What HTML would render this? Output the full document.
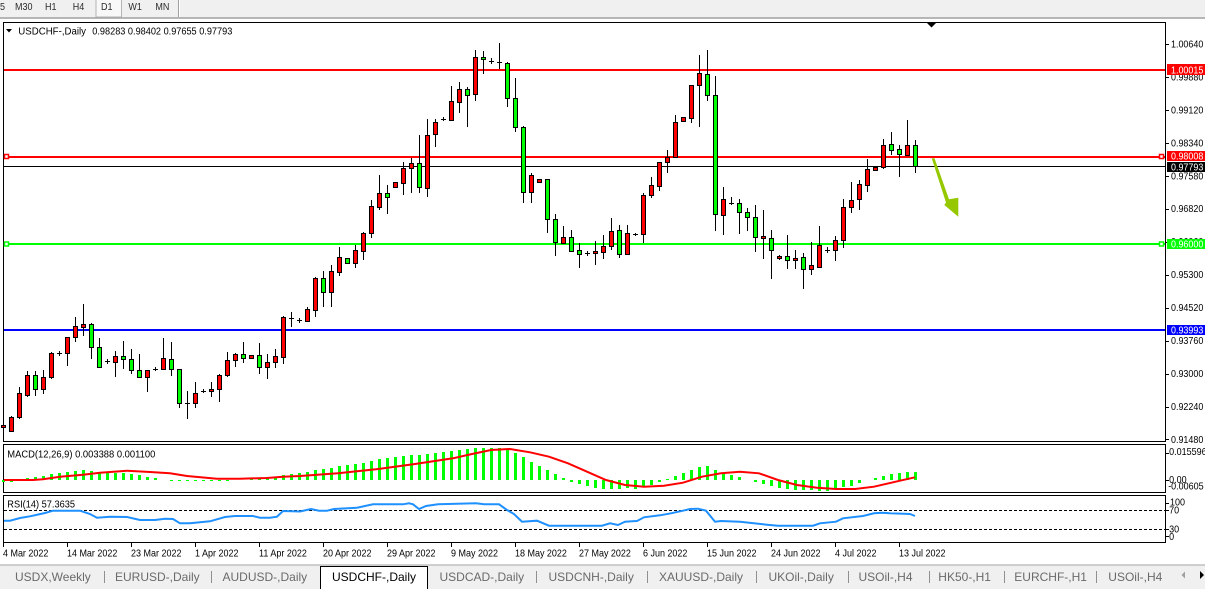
<!DOCTYPE html>
<html><head><meta charset="utf-8"><style>
html,body{margin:0;padding:0;background:#fff;}
svg{display:block;font-family:"Liberation Sans",sans-serif;}
</style></head><body>
<svg width="1205" height="589" viewBox="0 0 1205 589" xmlns="http://www.w3.org/2000/svg">
<rect x="0" y="0" width="1205" height="589" fill="#fff"/>
<!-- toolbar -->
<rect x="0" y="0" width="1205" height="18" fill="#f0f0f0"/>
<line x1="0" y1="18" x2="1205" y2="18" stroke="#a0a0a0" stroke-width="1.5"/>
<rect x="96" y="-1" width="25.5" height="18" fill="#f8f8f8" stroke="#b4b4b4" stroke-width="1"/>
<line x1="178.5" y1="0" x2="178.5" y2="17" stroke="#a0a0a0"/>
<line x1="179.5" y1="0" x2="179.5" y2="17" stroke="#fff"/>
<g transform="scale(0.9,1)" font-size="10" fill="#2a2a2a">
<text x="0" y="10">5</text><text x="16.7" y="10">M30</text><text x="50" y="10">H1</text><text x="80.8" y="10">H4</text><text x="112.2" y="10">D1</text><text x="142.6" y="10">W1</text><text x="172.6" y="10">MN</text>
</g>
<!-- panels -->
<g fill="none" stroke="#000" stroke-width="1" shape-rendering="crispEdges">
<rect x="3.5" y="22.5" width="1162" height="419"/>
<rect x="3.5" y="444.5" width="1162" height="48"/>
<rect x="3.5" y="495.5" width="1162" height="47"/>
</g>
<!-- header -->
<polygon points="6,29 12,29 9,32.5" fill="#000"/>
<text x="18.3" y="34.3" font-size="10" textLength="67.7" lengthAdjust="spacingAndGlyphs">USDCHF-,Daily</text>
<text x="92.3" y="34.3" font-size="10" textLength="140" lengthAdjust="spacingAndGlyphs">0.98283 0.98402 0.97655 0.97793</text>
<polygon points="927,23 936,23 931.5,27.5" fill="#000"/>
<!-- horizontal levels -->
<g shape-rendering="crispEdges">
<rect x="4" y="69" width="1161" height="2" fill="#ff0000"/>
<rect x="4" y="156" width="1161" height="2" fill="#ff0000"/>
<rect x="4" y="166" width="1161" height="1" fill="#000"/>
<rect x="4" y="243" width="1161" height="2" fill="#00ff00"/>
<rect x="4" y="329" width="1161" height="2" fill="#0000ff"/>
</g>
<rect x="4.5" y="154.5" width="4" height="4" fill="#fff" stroke="#ff0000" stroke-width="1.5"/>
<rect x="1159.5" y="154.5" width="4" height="4" fill="#fff" stroke="#ff0000" stroke-width="1.5"/>
<rect x="4.5" y="242" width="4" height="4" fill="#fff" stroke="#00ff00" stroke-width="1.5"/>
<rect x="1159.5" y="242" width="4" height="4" fill="#fff" stroke="#00ff00" stroke-width="1.5"/>
<!-- wicks -->
<path stroke="#000" stroke-width="1" fill="none" shape-rendering="crispEdges" d="M3.5 413V430M11.5 416V431M19.5 387V419M27.5 371V397M35.5 371V396M43.5 370V394M51.5 352V379M59.5 351V356M67.5 337V366M75.5 317V342M83.5 304V336M91.5 323V359M99.5 338V368M107.5 359V364M115.5 351V377M123.5 341V369M131.5 349V374M139.5 354V378M147.5 370V392M155.5 367V371M163.5 338V370M171.5 342V376M179.5 369V408M187.5 391V419M195.5 382V408M203.5 389V393M211.5 382V397M219.5 374V402M227.5 352V377M235.5 353V367M243.5 342V363M251.5 355V358M259.5 343V374M267.5 354V379M275.5 349V368M283.5 316V364M291.5 312V327M299.5 318V323M307.5 307V322M315.5 277V317M323.5 271V307M331.5 265V307M339.5 247V276M347.5 258V264M355.5 245V268M363.5 232V260M371.5 200V238M379.5 175V210M387.5 185V214M395.5 182V188M403.5 162V195M411.5 158V193M419.5 135V193M427.5 119V197M435.5 119V147M443.5 117V121M451.5 86V120M459.5 82V113M467.5 87V127M475.5 50V101M483.5 51V74M491.5 58V64M499.5 43V69M507.5 62V107M515.5 78V132M523.5 126V203M531.5 173V203M539.5 179V183M547.5 179V233M555.5 214V256M563.5 226V243M571.5 230V252M579.5 243V268M587.5 251V256M595.5 241V265M603.5 235V259M611.5 218V250M619.5 225V258M627.5 225V254M635.5 233V236M643.5 193V243M651.5 177V198M659.5 162V191M667.5 150V173M675.5 115V157M683.5 117V121M691.5 85V123M699.5 55V127M707.5 50V101M715.5 76V231M723.5 187V235M731.5 197V205M739.5 199V234M747.5 208V231M755.5 205V252M763.5 210V259M771.5 230V279M779.5 255V260M787.5 235V269M795.5 250V269M803.5 253V289M811.5 242V275M819.5 226V267M827.5 247V253M835.5 236V261M843.5 199V248M851.5 182V213M859.5 180V210M867.5 159V192M875.5 167V170M883.5 139V169M891.5 132V155M899.5 145V177M907.5 120V155M915.5 140V173"/>
<!-- dojis -->
<path stroke="#000" stroke-width="1" fill="none" shape-rendering="crispEdges" d="M57 353.5h5M105 361.5h5M153 369.5h5M185 403.5h5M201 391.5h5M289 318.5h5M297 320.5h5M441 119.5h5M489 61.5h5M497 62.5h5M585 253.5h5M633 234.5h5M729 203.5h5M825 250.5h5"/>
<!-- red bodies -->
<g fill="#ff0000" stroke="#000" stroke-width="1" shape-rendering="crispEdges">
<rect x="1.5" y="425.5" width="4" height="2"/><rect x="9.5" y="417.5" width="4" height="14"/><rect x="17.5" y="393.5" width="4" height="24"/><rect x="25.5" y="375.5" width="4" height="20"/><rect x="41.5" y="377.5" width="4" height="12"/><rect x="49.5" y="353.5" width="4" height="24"/><rect x="65.5" y="337.5" width="4" height="16"/><rect x="73.5" y="326.5" width="4" height="11"/><rect x="81.5" y="324.5" width="4" height="3"/><rect x="113.5" y="356.5" width="4" height="6"/><rect x="145.5" y="370.5" width="4" height="7"/><rect x="161.5" y="358.5" width="4" height="11"/><rect x="193.5" y="393.5" width="4" height="10"/><rect x="209.5" y="389.5" width="4" height="2"/><rect x="217.5" y="375.5" width="4" height="14"/><rect x="225.5" y="360.5" width="4" height="15"/><rect x="233.5" y="354.5" width="4" height="6"/><rect x="249.5" y="355.5" width="4" height="3"/><rect x="265.5" y="362.5" width="4" height="5"/><rect x="273.5" y="356.5" width="4" height="6"/><rect x="281.5" y="317.5" width="4" height="40"/><rect x="305.5" y="309.5" width="4" height="12"/><rect x="313.5" y="278.5" width="4" height="32"/><rect x="329.5" y="271.5" width="4" height="21"/><rect x="337.5" y="257.5" width="4" height="15"/><rect x="353.5" y="250.5" width="4" height="13"/><rect x="361.5" y="233.5" width="4" height="18"/><rect x="369.5" y="206.5" width="4" height="27"/><rect x="377.5" y="193.5" width="4" height="14"/><rect x="393.5" y="182.5" width="4" height="5"/><rect x="401.5" y="168.5" width="4" height="15"/><rect x="409.5" y="163.5" width="4" height="5"/><rect x="425.5" y="135.5" width="4" height="53"/><rect x="433.5" y="122.5" width="4" height="12"/><rect x="449.5" y="101.5" width="4" height="19"/><rect x="457.5" y="89.5" width="4" height="13"/><rect x="473.5" y="57.5" width="4" height="37"/><rect x="529.5" y="175.5" width="4" height="17"/><rect x="537.5" y="179.5" width="4" height="3"/><rect x="561.5" y="237.5" width="4" height="6"/><rect x="593.5" y="251.5" width="4" height="2"/><rect x="601.5" y="246.5" width="4" height="6"/><rect x="609.5" y="231.5" width="4" height="15"/><rect x="625.5" y="233.5" width="4" height="21"/><rect x="641.5" y="195.5" width="4" height="39"/><rect x="649.5" y="185.5" width="4" height="10"/><rect x="657.5" y="162.5" width="4" height="24"/><rect x="665.5" y="157.5" width="4" height="5"/><rect x="673.5" y="122.5" width="4" height="35"/><rect x="681.5" y="117.5" width="4" height="4"/><rect x="689.5" y="85.5" width="4" height="33"/><rect x="697.5" y="73.5" width="4" height="12"/><rect x="721.5" y="199.5" width="4" height="16"/><rect x="761.5" y="236.5" width="4" height="2"/><rect x="777.5" y="256.5" width="4" height="2"/><rect x="793.5" y="258.5" width="4" height="2"/><rect x="809.5" y="265.5" width="4" height="4"/><rect x="817.5" y="245.5" width="4" height="22"/><rect x="833.5" y="240.5" width="4" height="10"/><rect x="841.5" y="207.5" width="4" height="33"/><rect x="849.5" y="200.5" width="4" height="7"/><rect x="857.5" y="184.5" width="4" height="15"/><rect x="865.5" y="169.5" width="4" height="16"/><rect x="873.5" y="167.5" width="4" height="3"/><rect x="881.5" y="145.5" width="4" height="22"/><rect x="905.5" y="145.5" width="4" height="10"/>
</g>
<!-- green bodies -->
<g fill="#00ff00" stroke="#000" stroke-width="1" shape-rendering="crispEdges">
<rect x="33.5" y="375.5" width="4" height="14"/><rect x="89.5" y="324.5" width="4" height="23"/><rect x="97.5" y="347.5" width="4" height="20"/><rect x="121.5" y="356.5" width="4" height="3"/><rect x="129.5" y="359.5" width="4" height="11"/><rect x="137.5" y="370.5" width="4" height="7"/><rect x="169.5" y="359.5" width="4" height="10"/><rect x="177.5" y="369.5" width="4" height="34"/><rect x="241.5" y="354.5" width="4" height="4"/><rect x="257.5" y="355.5" width="4" height="12"/><rect x="321.5" y="278.5" width="4" height="14"/><rect x="345.5" y="258.5" width="4" height="5"/><rect x="385.5" y="193.5" width="4" height="4"/><rect x="417.5" y="163.5" width="4" height="24"/><rect x="465.5" y="89.5" width="4" height="6"/><rect x="481.5" y="57.5" width="4" height="2"/><rect x="505.5" y="63.5" width="4" height="35"/><rect x="513.5" y="98.5" width="4" height="29"/><rect x="521.5" y="127.5" width="4" height="65"/><rect x="545.5" y="179.5" width="4" height="40"/><rect x="553.5" y="219.5" width="4" height="23"/><rect x="569.5" y="237.5" width="4" height="14"/><rect x="577.5" y="250.5" width="4" height="4"/><rect x="617.5" y="230.5" width="4" height="24"/><rect x="705.5" y="74.5" width="4" height="21"/><rect x="713.5" y="95.5" width="4" height="119"/><rect x="737.5" y="203.5" width="4" height="9"/><rect x="745.5" y="212.5" width="4" height="5"/><rect x="753.5" y="217.5" width="4" height="20"/><rect x="769.5" y="238.5" width="4" height="12"/><rect x="785.5" y="256.5" width="4" height="4"/><rect x="801.5" y="257.5" width="4" height="12"/><rect x="889.5" y="144.5" width="4" height="6"/><rect x="897.5" y="149.5" width="4" height="5"/><rect x="913.5" y="145.5" width="4" height="21"/>
</g>
<!-- arrow -->
<polygon points="931.7,158.3 934.5,158.3 949,199.3 958.3,197.7 958.3,216.7 944.3,205 946,202.5" fill="#96c800"/>
<!-- price axis -->
<path stroke="#000" stroke-width="1" shape-rendering="crispEdges" d="M1165 44.5h4M1165 77.5h4M1165 110.5h4M1165 143.5h4M1165 176.5h4M1165 209.5h4M1165 242.5h4M1165 275.5h4M1165 308.5h4M1165 341.5h4M1165 374.5h4M1165 407.5h4M1165 439.5h4"/>
<g font-size="10" fill="#000">
<text x="1171" y="47.5" textLength="32.3" lengthAdjust="spacingAndGlyphs">1.00640</text>
<text x="1171" y="80.4" textLength="32.3" lengthAdjust="spacingAndGlyphs">0.99880</text>
<text x="1171" y="113.4" textLength="32.3" lengthAdjust="spacingAndGlyphs">0.99120</text>
<text x="1171" y="146.3" textLength="32.3" lengthAdjust="spacingAndGlyphs">0.98340</text>
<text x="1171" y="179.3" textLength="32.3" lengthAdjust="spacingAndGlyphs">0.97580</text>
<text x="1171" y="212.2" textLength="32.3" lengthAdjust="spacingAndGlyphs">0.96820</text>
<text x="1171" y="245.1" textLength="32.3" lengthAdjust="spacingAndGlyphs">0.96060</text>
<text x="1171" y="278.1" textLength="32.3" lengthAdjust="spacingAndGlyphs">0.95300</text>
<text x="1171" y="311" textLength="32.3" lengthAdjust="spacingAndGlyphs">0.94520</text>
<text x="1171" y="344" textLength="32.3" lengthAdjust="spacingAndGlyphs">0.93760</text>
<text x="1171" y="376.9" textLength="32.3" lengthAdjust="spacingAndGlyphs">0.93000</text>
<text x="1171" y="409.8" textLength="32.3" lengthAdjust="spacingAndGlyphs">0.92240</text>
<text x="1171" y="442.8" textLength="32.3" lengthAdjust="spacingAndGlyphs">0.91480</text>
</g>
<g shape-rendering="crispEdges">
<rect x="1167" y="64" width="38" height="11" fill="#ff0000"/>
<rect x="1167" y="151" width="38" height="10" fill="#ff0000"/>
<rect x="1167" y="162" width="38" height="10" fill="#000"/>
<rect x="1167" y="239" width="38" height="10" fill="#00ff00"/>
<rect x="1167" y="325" width="38" height="10" fill="#0000ff"/>
</g>
<g font-size="10" fill="#fff">
<text x="1171" y="73.3" textLength="32.3" lengthAdjust="spacingAndGlyphs">1.00015</text>
<text x="1171" y="159.6" textLength="32.3" lengthAdjust="spacingAndGlyphs">0.98008</text>
<text x="1171" y="170.6" textLength="32.3" lengthAdjust="spacingAndGlyphs">0.97793</text>
<text x="1171" y="247.6" textLength="32.3" lengthAdjust="spacingAndGlyphs">0.96000</text>
<text x="1171" y="333.6" textLength="32.3" lengthAdjust="spacingAndGlyphs">0.93993</text>
</g>
<!-- MACD -->
<g fill="#00ff00" shape-rendering="crispEdges">
<rect x="2" y="480" width="3" height="2"/><rect x="10" y="480" width="3" height="2"/><rect x="26" y="478" width="3" height="2"/><rect x="34" y="477" width="3" height="3"/><rect x="42" y="476" width="3" height="4"/><rect x="50" y="474" width="3" height="6"/><rect x="58" y="473" width="3" height="7"/><rect x="66" y="472" width="3" height="8"/><rect x="74" y="471" width="3" height="9"/><rect x="82" y="470" width="3" height="10"/><rect x="90" y="471" width="3" height="9"/><rect x="98" y="472" width="3" height="8"/><rect x="106" y="473" width="3" height="7"/><rect x="114" y="473" width="3" height="7"/><rect x="122" y="473" width="3" height="7"/><rect x="130" y="474" width="3" height="6"/><rect x="138" y="475" width="3" height="5"/><rect x="146" y="477" width="3" height="3"/><rect x="154" y="478" width="3" height="2"/><rect x="170" y="480" width="3" height="1"/><rect x="178" y="480" width="3" height="1"/><rect x="186" y="480" width="3" height="1"/><rect x="194" y="480" width="3" height="1"/><rect x="202" y="480" width="3" height="1"/><rect x="210" y="480" width="3" height="1"/><rect x="218" y="480" width="3" height="1"/><rect x="226" y="480" width="3" height="1"/><rect x="250" y="478" width="3" height="2"/><rect x="258" y="478" width="3" height="2"/><rect x="266" y="477" width="3" height="3"/><rect x="274" y="477" width="3" height="3"/><rect x="282" y="475" width="3" height="5"/><rect x="290" y="474" width="3" height="6"/><rect x="298" y="473" width="3" height="7"/><rect x="306" y="472" width="3" height="8"/><rect x="314" y="470" width="3" height="10"/><rect x="322" y="469" width="3" height="11"/><rect x="330" y="468" width="3" height="12"/><rect x="338" y="466" width="3" height="14"/><rect x="346" y="465" width="3" height="15"/><rect x="354" y="464" width="3" height="16"/><rect x="362" y="463" width="3" height="17"/><rect x="370" y="461" width="3" height="19"/><rect x="378" y="459" width="3" height="21"/><rect x="386" y="458" width="3" height="22"/><rect x="394" y="457" width="3" height="23"/><rect x="402" y="456" width="3" height="24"/><rect x="410" y="455" width="3" height="25"/><rect x="418" y="455" width="3" height="25"/><rect x="426" y="454" width="3" height="26"/><rect x="434" y="453" width="3" height="27"/><rect x="442" y="452" width="3" height="28"/><rect x="450" y="451" width="3" height="29"/><rect x="458" y="450" width="3" height="30"/><rect x="466" y="449" width="3" height="31"/><rect x="474" y="448" width="3" height="32"/><rect x="482" y="448" width="3" height="32"/><rect x="490" y="448" width="3" height="32"/><rect x="498" y="448" width="3" height="32"/><rect x="506" y="450" width="3" height="30"/><rect x="514" y="453" width="3" height="27"/><rect x="522" y="457" width="3" height="23"/><rect x="530" y="462" width="3" height="18"/><rect x="538" y="466" width="3" height="14"/><rect x="546" y="470" width="3" height="10"/><rect x="554" y="474" width="3" height="6"/><rect x="562" y="478" width="3" height="2"/><rect x="570" y="480" width="3" height="2"/><rect x="578" y="480" width="3" height="4"/><rect x="586" y="480" width="3" height="6"/><rect x="594" y="480" width="3" height="8"/><rect x="602" y="480" width="3" height="9"/><rect x="610" y="480" width="3" height="9"/><rect x="618" y="480" width="3" height="9"/><rect x="626" y="480" width="3" height="8"/><rect x="634" y="480" width="3" height="9"/><rect x="642" y="480" width="3" height="7"/><rect x="650" y="480" width="3" height="5"/><rect x="658" y="480" width="3" height="2"/><rect x="666" y="479" width="3" height="1"/><rect x="674" y="476" width="3" height="4"/><rect x="682" y="473" width="3" height="7"/><rect x="690" y="470" width="3" height="10"/><rect x="698" y="467" width="3" height="13"/><rect x="706" y="466" width="3" height="14"/><rect x="714" y="470" width="3" height="10"/><rect x="722" y="473" width="3" height="7"/><rect x="730" y="475" width="3" height="5"/><rect x="738" y="477" width="3" height="3"/><rect x="754" y="480" width="3" height="2"/><rect x="762" y="480" width="3" height="4"/><rect x="770" y="480" width="3" height="6"/><rect x="778" y="480" width="3" height="8"/><rect x="786" y="480" width="3" height="9"/><rect x="794" y="480" width="3" height="10"/><rect x="802" y="480" width="3" height="10"/><rect x="810" y="480" width="3" height="10"/><rect x="818" y="480" width="3" height="11"/><rect x="826" y="480" width="3" height="11"/><rect x="834" y="480" width="3" height="8"/><rect x="842" y="480" width="3" height="7"/><rect x="850" y="480" width="3" height="6"/><rect x="858" y="480" width="3" height="3"/><rect x="874" y="478" width="3" height="2"/><rect x="882" y="476" width="3" height="4"/><rect x="890" y="474" width="3" height="6"/><rect x="898" y="473" width="3" height="7"/><rect x="906" y="472" width="3" height="8"/><rect x="914" y="472" width="3" height="8"/>
</g>
<polyline fill="none" stroke="#ff0000" stroke-width="2" points="4,480 33,480 43,479.3 60,476.7 83,474.7 100,472.7 127,470.7 150,472 170,473.3 187,476 217,478.7 240,478.7 267,478 283,476.7 300,476 338,473.3 376,469.3 415,464 453,458.3 472,454 491,450 510,449 530,452.3 549,456.7 568,463.3 587,471.7 606,480 625,485 644,486.7 664,485.7 683,482.7 702,476.7 721,473.3 740,471.7 759,473.3 778,480 797,485 817,487.7 836,489 855,489 874,486.7 900,480.7 915,477.3"/>
<text x="7.3" y="457.5" font-size="10" textLength="148" lengthAdjust="spacingAndGlyphs">MACD(12,26,9) 0.003388 0.001100</text>
<!-- RSI -->
<path stroke="#000" stroke-width="1" stroke-dasharray="3,2" fill="none" shape-rendering="crispEdges" d="M4 510.5H1165M4 529.5H1165"/>
<polyline fill="none" stroke="#1e90ff" stroke-width="2" points="4,520.7 10,520.7 20,518 30,516.3 45,513 53,510.7 80,510.7 90,514 97,517.7 110,516.7 127,517 140,520 155,520 165,518.7 173,519 180,523.3 190,523.3 210,521.3 225,517 235,516 253,516 260,517.7 270,517.7 277,516.7 283,511 300,511.5 311,509 319,510.7 327,510.7 334,509 357,507.7 373,504.3 403,504.3 409,503.3 413,504.3 419,509 426,506 438,504.3 476,503.3 484,504.3 499,504.3 507,510 514,514 522,521.7 537,520.7 549,525.7 602,525.7 610,523.3 618,525 625,521.7 637,521 644,517.3 660,515.3 671,513.3 683,510.7 690,509 698,508.7 706,510.7 715,521.7 721,521 740,521.7 767,524.7 778,525.7 813,525.7 820,523.3 836,521.7 843,518.3 863,516 874,513.3 882,512.7 890,513.3 910,514 915,516"/>
<text x="7.3" y="507.5" font-size="10" textLength="67.7" lengthAdjust="spacingAndGlyphs">RSI(14) 57.3635</text>
<!-- sub axis -->
<path stroke="#000" stroke-width="1" shape-rendering="crispEdges" d="M1165 453.5h4M1165 480.5h4M1165 503.5h4M1165 510.5h4M1165 529.5h4M1165 536.5h4"/>
<g transform="scale(0.9,1)" font-size="10" fill="#000">
<text x="1299" y="455">0.015596</text>
<text x="1299" y="482.8">0.00</text>
<text x="1298" y="489.5">-0.00605</text>
<text x="1300" y="505.5">100</text>
<text x="1299" y="513.5">70</text>
<text x="1299" y="532.5">30</text>
<text x="1299" y="540">0</text>
</g>
<!-- date axis -->
<path stroke="#000" stroke-width="1" shape-rendering="crispEdges" d="M3.5 543V547M67.5 543V547M131.5 543V547M195.5 543V547M259.5 543V547M323.5 543V547M387.5 543V547M451.5 543V547M515.5 543V547M579.5 543V547M643.5 543V547M707.5 543V547M771.5 543V547M835.5 543V547M899.5 543V547"/>
<g transform="scale(0.9,1)" font-size="10" fill="#000">
<text x="3.3" y="556.3">4 Mar 2022</text>
<text x="74.4" y="556.3">14 Mar 2022</text>
<text x="145.6" y="556.3">23 Mar 2022</text>
<text x="216.7" y="556.3">1 Apr 2022</text>
<text x="287.8" y="556.3">11 Apr 2022</text>
<text x="358.9" y="556.3">20 Apr 2022</text>
<text x="430" y="556.3">29 Apr 2022</text>
<text x="501.1" y="556.3">9 May 2022</text>
<text x="572.2" y="556.3">18 May 2022</text>
<text x="643.3" y="556.3">27 May 2022</text>
<text x="714.4" y="556.3">6 Jun 2022</text>
<text x="785.6" y="556.3">15 Jun 2022</text>
<text x="856.7" y="556.3">24 Jun 2022</text>
<text x="927.8" y="556.3">4 Jul 2022</text>
<text x="998.9" y="556.3">13 Jul 2022</text>
</g>
<!-- tab bar -->
<rect x="0" y="565" width="1205" height="24" fill="#f0f0f0"/>
<line x1="0" y1="565" x2="1205" y2="565" stroke="#c0c0c0" stroke-width="1.5"/>
<rect x="320.5" y="566.5" width="107" height="24" fill="#fff" stroke="#000" stroke-width="1"/>
<path stroke="#909090" stroke-width="1" shape-rendering="crispEdges" d="M104.5 571V583M211.5 571V583M536.5 571V583M647.5 571V583M756.5 571V583M848.5 571V583M929.5 571V583M1004.5 571V583M1096.5 571V583"/>
<g font-size="12" fill="#6a6a6a">
<text x="15" y="581">USDX,Weekly</text>
<text x="115" y="581">EURUSD-,Daily</text>
<text x="222.5" y="581">AUDUSD-,Daily</text>
<text x="332" y="581" fill="#000">USDCHF-,Daily</text>
<text x="439.5" y="581">USDCAD-,Daily</text>
<text x="548.5" y="581">USDCNH-,Daily</text>
<text x="659" y="581">XAUUSD-,Daily</text>
<text x="768.5" y="581">UKOil-,Daily</text>
<text x="858.5" y="581">USOil-,H4</text>
<text x="938.3" y="581">HK50-,H1</text>
<text x="1014.3" y="581">EURCHF-,H1</text>
<text x="1108.3" y="581">USOil-,H4</text>
</g>
<polygon points="1185,571.5 1185,578.5 1181.5,575" fill="#a0a0a0"/>
<polygon points="1200,571 1200,579 1204,575" fill="#000"/>
</svg>
</body></html>
